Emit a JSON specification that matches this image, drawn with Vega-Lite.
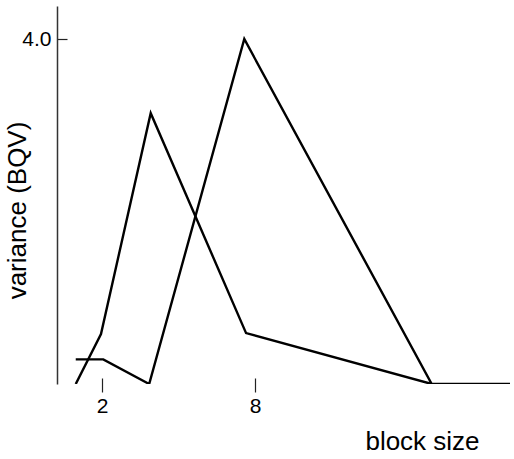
{
  "$schema": "https://vega.github.io/schema/vega-lite/v6.json",
  "autosize": "none",
  "width": 453,
  "height": 378,
  "padding": {"left": 57, "top": 6, "right": 4, "bottom": 75},
  "background": "white",
  "config": {
    "view": {"stroke": null},
    "font": "Liberation Sans",
    "axis": {"grid": false, "labelFont": "Liberation Sans", "titleFont": "Liberation Sans", "labelColor": "black", "titleColor": "black", "titleFontWeight": "normal", "tickColor": "#222", "tickWidth": 1.2, "labelFontSize": 21}
  },
  "datasets": {
    "lines": [
      {"series": "A", "block": 0.97, "variance": 0.0},
      {"series": "A", "block": 1.96, "variance": 0.58},
      {"series": "A", "block": 3.91, "variance": 3.14},
      {"series": "A", "block": 7.65, "variance": 0.59},
      {"series": "A", "block": 14.93, "variance": 0.0},
      {"series": "B", "block": 0.97, "variance": 0.286},
      {"series": "B", "block": 2.05, "variance": 0.286},
      {"series": "B", "block": 3.85, "variance": 0.0},
      {"series": "B", "block": 7.58, "variance": 4.0},
      {"series": "B", "block": 14.93, "variance": 0.0},
      {"series": "B", "block": 18.0, "variance": 0.0}
    ]
  },
  "layer": [
    {
      "mark": {"type": "rule", "color": "#9a9a9a", "strokeWidth": 1.5},
      "encoding": {"y": {"datum": 0, "type": "quantitative", "scale": {"domain": [0, 4.383], "nice": false}}}
    },
    {
      "data": {"name": "lines"},
      "mark": {"type": "line", "color": "black", "strokeWidth": 2.4, "clip": true},
      "encoding": {
        "x": {
          "field": "block", "type": "quantitative",
          "scale": {"domain": [0.235, 18], "nice": false, "zero": false},
          "axis": {"values": [2, 8], "title": "block size", "domain": false, "tickSize": 14, "offset": -6, "labelPadding": 3, "labelFontSize": 21, "titleFontSize": 26, "titleX": 365, "titleY": 63, "titleAlign": "center", "titleBaseline": "middle", "titleAnchor": null}
        },
        "y": {
          "field": "variance", "type": "quantitative",
          "scale": {"domain": [0, 4.383], "nice": false},
          "axis": {"values": [4], "format": ".1f", "title": "variance (BQV)", "domain": true, "domainColor": "#333", "domainWidth": 1.5, "tickSize": -10, "labelPadding": 16, "labelFontSize": 21, "titleFontSize": 26, "titleX": -40, "titleY": 204, "titleAngle": -90, "titleAlign": "center", "titleBaseline": "middle", "titleAnchor": null}
        },
        "detail": {"field": "series"}
      }
    }
  ]
}
